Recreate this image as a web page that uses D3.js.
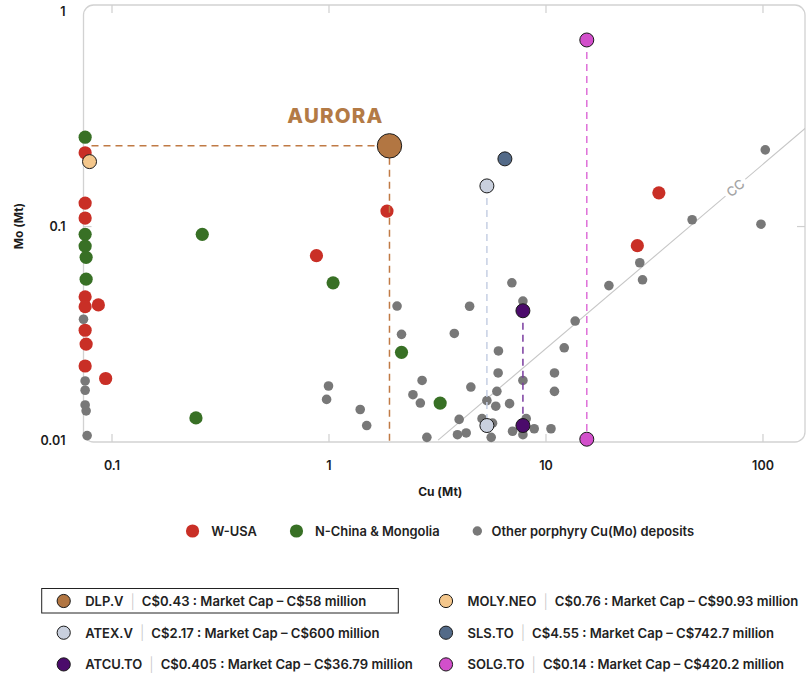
<!DOCTYPE html>
<html>
<head>
<meta charset="utf-8">
<script src="https://cdn.jsdelivr.net/npm/d3@7"></script>
<style>
  body { margin: 0; background: #fff; }
  svg { font-family: Inter, "Noto Sans", sans-serif; }
</style>
</head>
<body>
<div id="chart"></div>
<script>
// Cu (Mt) vs Mo (Mt) for each deposit
var westUSA = [
  [0.0756, 0.22], [0.0756, 0.128], [0.0756, 0.109], [0.0756, 0.0467],
  [0.0756, 0.042], [0.087, 0.0428], [0.0756, 0.0326], [0.0764, 0.0281],
  [0.0756, 0.0222], [0.094, 0.0194], [0.88, 0.0727], [1.86, 0.1175],
  [26.5, 0.081], [33.3, 0.143]
];
var northChina = [
  [0.0756, 0.26], [0.0756, 0.0915], [0.0756, 0.0806], [0.0764, 0.0714],
  [0.0764, 0.0565], [0.262, 0.0915], [0.245, 0.0127], [1.05, 0.0543],
  [2.17, 0.0257], [3.27, 0.0149]
];
var otherDeposits = [
  [0.0743, 0.0367], [0.0756, 0.0189], [0.0756, 0.0171], [0.0756, 0.0146],
  [0.0764, 0.0137], [0.0772, 0.0105], [2.07, 0.0423], [4.47, 0.0422],
  [7.0, 0.0543], [7.87, 0.0446], [13.7, 0.036], [2.17, 0.0312],
  [3.8, 0.0315], [6.07, 0.0261], [12.2, 0.027], [6.05, 0.0206],
  [11.0, 0.0206], [1.0, 0.0179], [2.7, 0.019], [4.53, 0.0177],
  [7.87, 0.019], [11.0, 0.0169], [0.98, 0.0155], [2.45, 0.0163],
  [2.65, 0.0149], [5.97, 0.0169], [5.37, 0.0153], [5.9, 0.0144],
  [6.83, 0.0148], [1.4, 0.0139], [1.5, 0.0117], [4.0, 0.0125],
  [5.1, 0.0126], [5.7, 0.012], [8.15, 0.0126], [8.87, 0.0113],
  [10.6, 0.0113], [7.05, 0.011], [7.87, 0.0106], [5.62, 0.0103],
  [4.31, 0.0108], [3.93, 0.0106], [2.84, 0.0103], [19.6, 0.0527],
  [27.2, 0.0674], [28.0, 0.0561], [47.4, 0.107], [98.4, 0.102],
  [103, 0.227]
];
var groupNames = ["W-USA", "N-China & Mongolia", "Other porphyry Cu(Mo) deposits"];

// listed companies, legend order
var tickers = ["DLP.V", "ATEX.V", "ATCU.TO", "MOLY.NEO", "SLS.TO", "SOLG.TO"];
var prices = ["C$0.43", "C$2.17", "C$0.405", "C$0.76", "C$4.55", "C$0.14"];
var marketCaps = ["C$58 million", "C$600 million", "C$36.79 million", "C$90.93 million", "C$742.7 million", "C$420.2 million"];
var tickerDeposits = [
  [[1.91, 0.237]],
  [[5.37, 0.154], [5.37, 0.0117]],
  [[7.87, 0.0402], [7.87, 0.0117]],
  [[0.0792, 0.2]],
  [[6.5, 0.206]],
  [[15.5, 0.74], [15.5, 0.0101]]
];

var ccLine = [[3.2, 0.01], [160, 0.29]];
var xTicks = [0.1, 1, 10, 100];
var yTicks = [0.01, 0.1, 1];

var fill = { "W-USA": "#c92f26", "N-China & Mongolia": "#387025", "Other porphyry Cu(Mo) deposits": "#787878" };
var tickerColor = d3.scaleOrdinal().domain(tickers)
  .range(["#b27642", "#c9d0de", "#4b0b6b", "#f4c78c", "#536a88", "#d24fcb"]);
var dashColor = d3.scaleOrdinal().domain(tickers)
  .range(["#c07a45", "#c6d0e4", "#7b3ca0", "#f4c78c", "#536a88", "#de70d8"]);

var margin = { top: 5, right: 1, bottom: 232, left: 83.5 },
  width = 806 - margin.left - margin.right,
  height = 674 - margin.top - margin.bottom;

var root = d3.select("#chart").append("svg")
  .attr("width", 806).attr("height", 674);
var svg = root.append("g")
  .attr("transform", "translate(" + margin.left + "," + margin.top + ")");

var x = d3.scaleLog().domain([0.0743, 157]).range([0, width]);
var y = d3.scaleLog().domain([0.0098, 1.078]).range([height, 0]);

svg.append("clipPath").attr("id", "plot-clip")
  .append("rect").attr("width", width).attr("height", height);

// frame
svg.append("rect")
  .attr("width", width).attr("height", height)
  .attr("rx", 10).attr("ry", 10)
  .style("fill", "none").style("stroke", "#d2d2d2").style("stroke-width", 1.3);

function styleAxis(g) {
  g.select(".domain").remove();
  g.selectAll(".tick line").style("stroke", "#cfcfcf").style("stroke-width", 1.2);
  g.selectAll(".tick text")
    .style("font-size", "12.5px").style("font-weight", 600).style("fill", "#1c1c1c")
    .style("font-family", "Inter, sans-serif");
}

svg.append("g").attr("transform", "translate(0," + height + ")")
  .call(d3.axisBottom(x).tickValues(xTicks).tickFormat(d3.format("~g")).tickSize(-8).tickPadding(19))
  .call(styleAxis);
svg.append("g")
  .call(d3.axisTop(x).tickValues(xTicks).tickFormat("").tickSize(-8))
  .call(styleAxis);
svg.append("g")
  .call(d3.axisLeft(y).tickValues(yTicks).tickFormat(d3.format("~g")).tickSize(-8).tickPadding(18))
  .call(styleAxis)
  .selectAll(".tick line").filter(function (d) { return d !== 0.1; }).remove();
svg.append("g").attr("transform", "translate(" + width + ",0)")
  .call(d3.axisRight(y).tickValues([0.1]).tickFormat("").tickSize(-8))
  .call(styleAxis);

// axis titles
svg.append("text")
  .attr("x", width / 2 - 4).attr("y", height + 49)
  .attr("text-anchor", "middle").attr("dominant-baseline", "central")
  .style("font-size", "12px").style("font-weight", 700).style("fill", "#1c1c1c")
  .text("Cu (Mt)");
svg.append("text")
  .attr("transform", "translate(-65," + y(0.1) + ") rotate(-90)")
  .attr("text-anchor", "middle").attr("dominant-baseline", "central")
  .style("font-size", "12px").style("font-weight", 700).style("fill", "#1c1c1c")
  .text("Mo (Mt)");

// CC trend line (clipped to the frame)
var clipped = svg.append("g").attr("clip-path", "url(#plot-clip)");
clipped.append("path")
  .datum(ccLine)
  .attr("d", d3.line().x(function (d) { return x(d[0]); }).y(function (d) { return y(d[1]); }))
  .style("fill", "none").style("stroke", "#c6c6c6").style("stroke-width", 1.1);

var ccCu = 75;
var t = Math.log(ccCu / ccLine[0][0]) / Math.log(ccLine[1][0] / ccLine[0][0]);
var ccMo = Math.exp(Math.log(ccLine[0][1]) + t * Math.log(ccLine[1][1] / ccLine[0][1]));
var angle = Math.atan2(y(ccLine[1][1]) - y(ccLine[0][1]), x(ccLine[1][0]) - x(ccLine[0][0])) * 180 / Math.PI;
var ccLabel = clipped.append("g")
  .attr("transform", "translate(" + x(ccCu) + "," + y(ccMo) + ") rotate(" + angle + ")");
ccLabel.append("rect").attr("x", -13).attr("y", -7).attr("width", 26).attr("height", 14).style("fill", "#fff");
ccLabel.append("text")
  .attr("text-anchor", "middle").attr("dominant-baseline", "central")
  .style("font-size", "13px").style("font-weight", 500).style("fill", "#a4a4a4")
  .text("CC");

// deposits
var plot = svg.append("g");
function addDots(data, name, r) {
  plot.selectAll(null)
    .data(data)
    .enter()
    .append("circle")
    .attr("cx", function (d) { return x(d[0]); })
    .attr("cy", function (d) { return y(d[1]); })
    .attr("r", r)
    .style("fill", fill[name]);
}
addDots(otherDeposits, groupNames[2], 4.8);
addDots(westUSA, groupNames[0], 6.6);
addDots(northChina, groupNames[1], 6.6);

// company drop lines
tickers.forEach(function (tk, i) {
  var pts = tickerDeposits[i];
  var dash = dashColor(tk);
  if (tk === "DLP.V") {
    var p = pts[0];
    plot.append("line")
      .attr("x1", x.range()[0] + 8).attr("x2", x(p[0]))
      .attr("y1", y(p[1])).attr("y2", y(p[1]))
      .style("stroke", dash).style("stroke-width", 1.5).style("stroke-dasharray", "7,5");
    plot.append("line")
      .attr("x1", x(p[0])).attr("x2", x(p[0]))
      .attr("y1", y(p[1])).attr("y2", y.range()[0])
      .style("stroke", dash).style("stroke-width", 1.5).style("stroke-dasharray", "7,5");
  } else if (pts.length > 1) {
    plot.append("line")
      .attr("x1", x(pts[0][0])).attr("x2", x(pts[1][0]))
      .attr("y1", y(pts[0][1])).attr("y2", y(pts[1][1]))
      .style("stroke", dash).style("stroke-width", 1.5).style("stroke-dasharray", "7,5");
  }
});

tickers.forEach(function (tk, i) {
  plot.selectAll(null)
    .data(tickerDeposits[i])
    .enter()
    .append("circle")
    .attr("cx", function (d) { return x(d[0]); })
    .attr("cy", function (d) { return y(d[1]); })
    .attr("r", tk === "DLP.V" ? 12.2 : 7)
    .style("fill", tickerColor(tk))
    .style("stroke", "#1a1a1a").style("stroke-width", 1);
});

// AURORA label
var dlp = tickerDeposits[0][0];
svg.append("text")
  .attr("x", x(dlp[0]) - 54).attr("y", y(dlp[1]) - 30)
  .attr("text-anchor", "middle").attr("dominant-baseline", "central")
  .style("font-size", "20.5px").style("font-weight", 800).style("letter-spacing", "1.2px")
  .style("fill", "#b37a45")
  .text("AURORA");

// group legend
var legend = root.append("g");
var cursor = 0;
groupNames.forEach(function (name, i) {
  var r = i === 2 ? 4.7 : 6.6;
  legend.append("circle").attr("cx", cursor + r).attr("cy", 0).attr("r", r).style("fill", fill[name]);
  cursor += 2 * r + (i === 2 ? 9.5 : 12);
  var txt = legend.append("text")
    .attr("x", cursor).attr("y", 0).attr("dominant-baseline", "central")
    .style("font-size", "12.9px").style("font-weight", 600).style("fill", "#222")
    .text(name);
  cursor += txt.node().getComputedTextLength() + 33;
});
var legendWidth = cursor - 33;
legend.attr("transform", "translate(" + (440 - legendWidth / 2) + ",531)");

// company legend
var colX = [63.7, 446];
root.append("rect")
  .attr("x", 41.7).attr("y", 588.5).attr("width", 356.6).attr("height", 24.5)
  .style("fill", "none").style("stroke", "#222").style("stroke-width", 1);

tickers.forEach(function (tk, i) {
  var cx = colX[Math.floor(i / 3)], cy = 601 + (i % 3) * 31.7;
  var row = root.append("g").attr("transform", "translate(" + cx + "," + cy + ")");
  row.append("circle").attr("r", 6.6)
    .style("fill", tickerColor(tk)).style("stroke", "#1a1a1a").style("stroke-width", 1);
  var tx = 21.5;
  var name = row.append("text").attr("x", tx).attr("dominant-baseline", "central")
    .style("font-size", "13px").style("font-weight", 600).style("fill", "#222")
    .text(tk);
  tx += name.node().getComputedTextLength() + 7;
  var bar = row.append("text").attr("x", tx).attr("dominant-baseline", "central")
    .style("font-size", "14px").style("font-weight", 300).style("fill", "#c8c8c8")
    .text("|");
  tx += bar.node().getComputedTextLength() + 7;
  row.append("text").attr("x", tx).attr("dominant-baseline", "central")
    .style("font-size", "13.1px").style("font-weight", 600).style("fill", "#222")
    .text(prices[i] + " : Market Cap \u2013 " + marketCaps[i]);
});
</script>
</body>
</html>
